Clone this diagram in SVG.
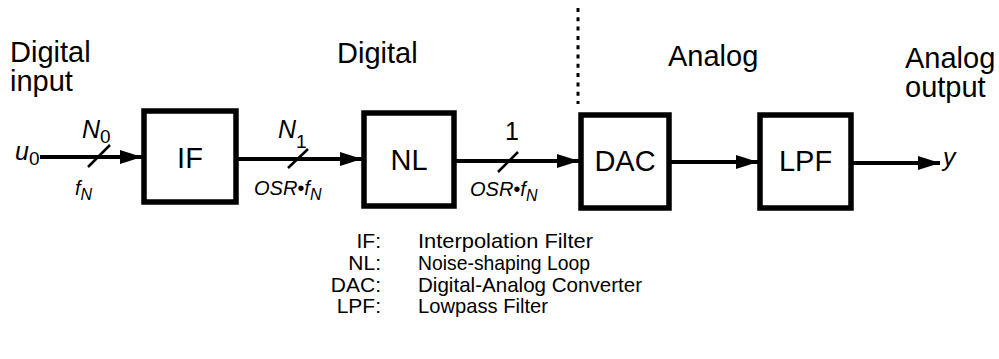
<svg xmlns="http://www.w3.org/2000/svg" width="999" height="359" viewBox="0 0 999 359">
<defs>
<style>
text{font-family:"Liberation Sans",Arial,Helvetica,sans-serif;fill:#000}
.h{font-size:29px}
.bx{font-size:29px;text-anchor:middle}
.it{font-style:italic}
.lg{font-size:21px}
.box{fill:#fff;stroke:#000;stroke-width:5.5}
.ln{stroke:#000;stroke-width:4;fill:none}
.sl{stroke:#000;stroke-width:2.5;fill:none}
</style>
<marker id="ah" markerWidth="22" markerHeight="14" refX="22" refY="7" orient="auto" markerUnits="userSpaceOnUse">
<path d="M0,0 L22,7 L0,14 Z" fill="#000"/>
</marker>
</defs>
<rect width="999" height="359" fill="#fff"/>

<g id="labels">
<text class="h" x="10" y="62">Digital</text>
<text class="h" x="10" y="91">input</text>
<text class="h" x="337" y="63">Digital</text>
<text class="h" x="668" y="66">Analog</text>
<text class="h" x="905" y="68">Analog</text>
<text class="h" x="905" y="97">output</text>
</g>

<line id="divider" x1="578" y1="8" x2="578" y2="104" stroke="#000" stroke-width="3" stroke-dasharray="4,5.3"/>

<g id="connectors">
<line class="ln" x1="40" y1="157" x2="142" y2="157" marker-end="url(#ah)"/>
<line class="sl" x1="88" y1="167" x2="110" y2="145"/>
<line class="ln" x1="238" y1="159" x2="362" y2="159" marker-end="url(#ah)"/>
<line class="sl" x1="288" y1="168" x2="308" y2="149"/>
<line class="ln" x1="456" y1="161" x2="579" y2="161" marker-end="url(#ah)"/>
<line class="sl" x1="498" y1="172" x2="518" y2="152"/>
<line class="ln" x1="671" y1="162" x2="758" y2="162" marker-end="url(#ah)"/>
<line class="ln" x1="853" y1="163" x2="940" y2="163" marker-end="url(#ah)"/>
</g>

<g id="signal-labels">
<text class="it" x="15" y="160" font-size="25">u<tspan font-size="19" dy="5" font-style="normal">0</tspan></text>
<text class="it" x="82" y="138" font-size="25">N<tspan font-size="19" dy="5" font-style="normal">0</tspan></text>
<text class="it" x="75" y="195" font-size="20">f<tspan font-size="16" dy="5">N</tspan></text>
<text class="it" x="278" y="138" font-size="25">N<tspan font-size="19" dy="10" font-style="normal">1</tspan></text>
<text class="it" x="254" y="195" font-size="20">OSR•f<tspan font-size="16" dy="5">N</tspan></text>
<text x="505" y="140" font-size="25">1</text>
<text class="it" x="470" y="196" font-size="20">OSR•f<tspan font-size="16" dy="5">N</tspan></text>
<text class="it" x="943" y="166" font-size="25">y</text>
</g>

<g id="IF">
<rect class="box" x="144" y="111" width="92" height="91"/>
<text class="bx" x="190" y="168">IF</text>
</g>
<g id="NL">
<rect class="box" x="364" y="113" width="90" height="93"/>
<text class="bx" x="409" y="170">NL</text>
</g>
<g id="DAC">
<rect class="box" x="581" y="115" width="88" height="93"/>
<text class="bx" x="625" y="171">DAC</text>
</g>
<g id="LPF">
<rect class="box" x="760" y="115" width="91" height="93"/>
<text class="bx" x="805.5" y="171">LPF</text>
</g>

<g id="legend" class="lg">
<text x="381" y="248" text-anchor="end">IF:</text>
<text x="418" y="248" textLength="175" lengthAdjust="spacingAndGlyphs">Interpolation Filter</text>
<text x="381" y="270" text-anchor="end">NL:</text>
<text x="418" y="270" textLength="172" lengthAdjust="spacingAndGlyphs">Noise-shaping Loop</text>
<text x="381" y="292" text-anchor="end">DAC:</text>
<text x="418" y="292" textLength="224" lengthAdjust="spacingAndGlyphs">Digital-Analog Converter</text>
<text x="381" y="313" text-anchor="end">LPF:</text>
<text x="418" y="313" textLength="130" lengthAdjust="spacingAndGlyphs">Lowpass Filter</text>
</g>
</svg>
